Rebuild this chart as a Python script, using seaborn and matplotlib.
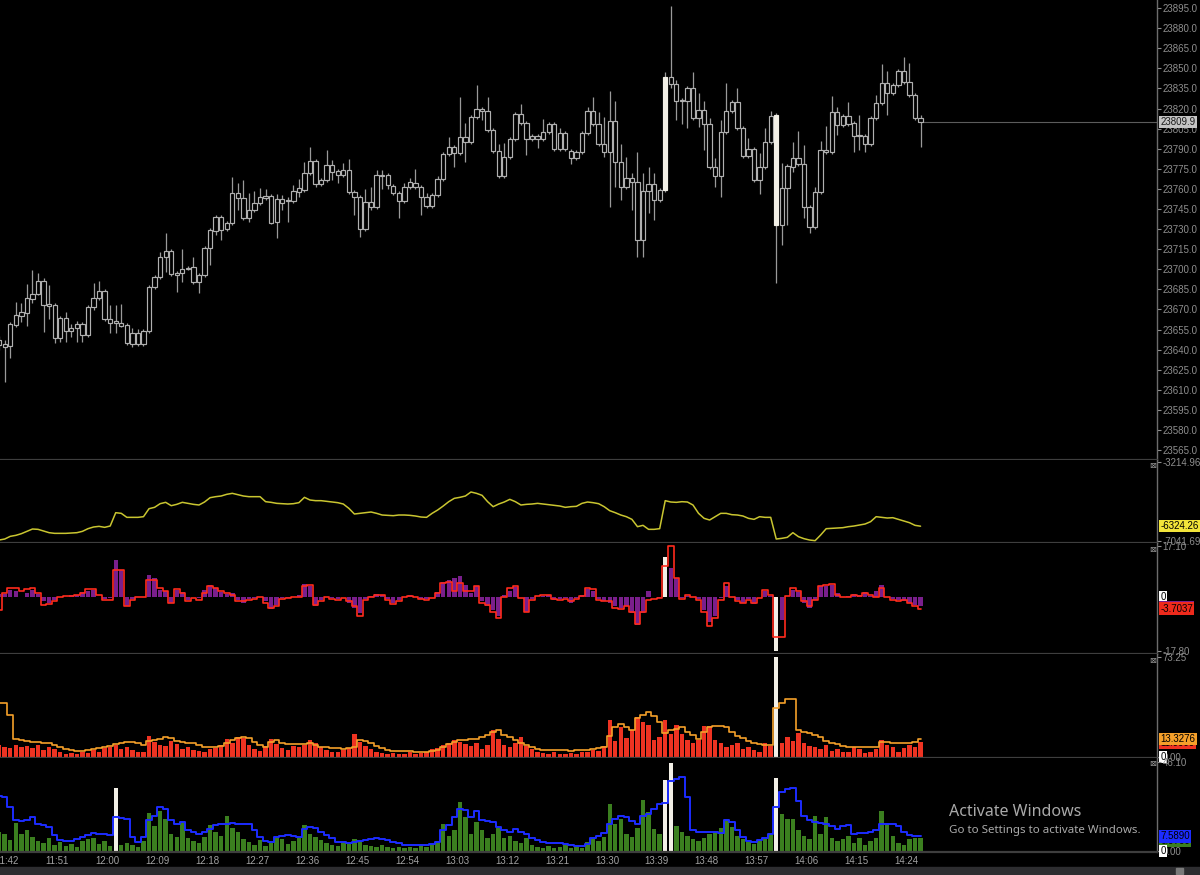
import numpy as np
import pandas as pd
import matplotlib
matplotlib.use('Agg')
import matplotlib.pyplot as plt
from matplotlib.patches import Rectangle
import seaborn as sns

# 1-minute bars, 11:41 .. 14:27
opens = [23647.25, 23644.25, 23642.75, 23658.5, 23665.0, 23667.25, 23677.75, 23681.5, 23691.25, 23674.0,
         23673.25, 23648.75, 23663.5, 23656.0, 23656.0, 23659.0, 23651.0, 23671.75, 23678.5, 23683.75,
         23662.75, 23659.75, 23659.75, 23658.5, 23644.25, 23652.5, 23644.25, 23654.0, 23686.75, 23694.25,
         23709.0, 23713.5, 23697.25, 23697.25, 23700.25, 23701.75, 23690.5, 23695.75, 23715.75, 23728.5,
         23739.0, 23730.0, 23734.5, 23757.0, 23753.25, 23738.25, 23744.25, 23749.5, 23753.25, 23754.75,
         23735.25, 23752.5, 23751.0, 23751.0, 23757.75, 23759.25, 23771.75, 23780.75, 23763.5, 23766.75,
         23777.75, 23773.25, 23770.25, 23774.0, 23757.75, 23754.0, 23730.0, 23750.25, 23746.5, 23770.25,
         23770.25, 23762.0, 23757.0, 23751.0, 23761.5, 23764.5, 23761.5, 23754.0, 23747.25, 23755.5,
         23767.25, 23786.0, 23791.25, 23786.75, 23798.75, 23795.0, 23813.5, 23819.5, 23818.0, 23804.0,
         23788.25, 23769.5, 23783.75, 23797.25, 23816.0, 23809.25, 23797.25, 23799.5, 23797.25, 23802.5,
         23808.5, 23789.75, 23801.75, 23788.25, 23783.0, 23787.5, 23801.75, 23818.0, 23808.5, 23793.5,
         23787.5, 23810.75, 23780.0, 23761.5, 23768.0, 23765.0, 23721.75, 23758.5, 23763.5, 23751.75,
         23759.25, 23843.5, 23838.25, 23826.25, 23825.5, 23835.25, 23813.0, 23818.75, 23808.5, 23776.25,
         23769.5, 23802.5, 23818.0, 23824.75, 23805.5, 23784.5, 23789.75, 23766.75, 23776.25, 23795.0,
         23815.25, 23733.0, 23760.5, 23776.25, 23783.0, 23778.5, 23746.5, 23731.5, 23757.75, 23789.0,
         23787.5, 23817.5, 23807.75, 23814.5, 23809.25, 23800.25, 23799.5, 23793.5, 23813.0, 23824.0,
         23839.0, 23831.5, 23837.5, 23848.0, 23839.75, 23830.0, 23813.0]
highs = [23650.0, 23647.25, 23660.5, 23675.5, 23674.75, 23689.0, 23699.5, 23697.25, 23693.5, 23688.25,
         23674.75, 23665.0, 23668.0, 23659.0, 23661.25, 23660.5, 23673.25, 23689.75, 23691.25, 23685.25,
         23673.25, 23673.25, 23674.0, 23659.75, 23656.0, 23655.5, 23655.5, 23688.25, 23695.75, 23713.0,
         23727.0, 23715.0, 23698.75, 23715.0, 23702.5, 23709.0, 23697.25, 23717.25, 23730.75, 23740.5,
         23740.5, 23736.0, 23769.0, 23764.5, 23766.5, 23757.0, 23758.5, 23760.5, 23760.0, 23756.25,
         23756.25, 23755.5, 23754.0, 23763.0, 23767.5, 23780.0, 23791.25, 23782.25, 23768.0, 23789.0,
         23781.5, 23774.75, 23779.25, 23782.25, 23759.25, 23755.5, 23760.0, 23761.5, 23774.0, 23774.0,
         23771.75, 23763.5, 23758.5, 23764.5, 23768.0, 23774.75, 23763.0, 23757.0, 23757.0, 23769.5,
         23787.5, 23798.75, 23792.75, 23828.5, 23809.25, 23815.25, 23837.5, 23821.0, 23828.5, 23805.5,
         23793.5, 23794.25, 23798.75, 23817.5, 23823.25, 23810.75, 23801.0, 23801.0, 23812.25, 23810.0,
         23810.0, 23805.5, 23803.25, 23789.75, 23789.0, 23803.25, 23821.0, 23828.5, 23817.5, 23813.5,
         23833.0, 23825.5, 23793.5, 23783.75, 23771.75, 23787.5, 23771.75, 23776.25, 23771.75, 23760.5,
         23847.25, 23896.5, 23841.25, 23827.75, 23836.75, 23847.25, 23831.5, 23825.5, 23813.0, 23783.0,
         23811.5, 23839.0, 23826.25, 23835.25, 23807.0, 23798.0, 23791.25, 23786.75, 23805.5, 23818.0,
         23816.75, 23779.25, 23778.5, 23795.0, 23803.25, 23792.75, 23748.0, 23761.5, 23795.75, 23807.0,
         23829.25, 23821.0, 23815.75, 23824.75, 23810.75, 23815.25, 23801.0, 23814.5, 23830.0, 23853.25,
         23848.0, 23839.0, 23849.5, 23858.5, 23854.0, 23831.5, 23815.25]
lows = [23639.75, 23615.75, 23633.75, 23657.0, 23660.5, 23657.5, 23674.75, 23680.75, 23653.0, 23662.75,
        23645.0, 23645.75, 23645.75, 23649.5, 23645.75, 23645.75, 23649.5, 23669.5, 23677.0, 23661.25,
        23652.5, 23652.5, 23657.0, 23643.5, 23642.0, 23642.75, 23642.75, 23652.5, 23685.25, 23692.75,
        23698.0, 23695.0, 23683.0, 23690.5, 23699.5, 23689.0, 23682.25, 23694.25, 23703.25, 23725.5,
        23721.75, 23728.5, 23733.0, 23744.25, 23736.75, 23735.25, 23742.75, 23748.0, 23751.75, 23733.75,
        23723.25, 23744.25, 23735.25, 23749.5, 23754.0, 23757.75, 23770.25, 23761.5, 23762.0, 23765.0,
        23766.75, 23764.5, 23768.75, 23756.25, 23740.5, 23724.0, 23728.5, 23744.25, 23745.0, 23760.0,
        23760.0, 23755.5, 23738.25, 23749.5, 23760.0, 23760.0, 23740.5, 23745.75, 23745.75, 23754.0,
        23765.75, 23784.5, 23776.25, 23785.25, 23780.0, 23793.5, 23812.25, 23811.5, 23802.5, 23786.75,
        23768.0, 23768.0, 23782.25, 23795.75, 23807.75, 23785.25, 23795.75, 23790.5, 23795.75, 23801.0,
        23788.25, 23788.25, 23788.25, 23778.5, 23781.5, 23786.0, 23800.25, 23807.0, 23792.0, 23783.75,
        23746.5, 23761.5, 23751.75, 23760.0, 23744.25, 23709.0, 23709.0, 23742.0, 23736.75, 23750.25,
        23757.75, 23835.25, 23811.5, 23808.5, 23805.5, 23811.5, 23806.25, 23789.0, 23774.75, 23761.5,
        23754.0, 23801.0, 23816.5, 23804.0, 23783.0, 23783.0, 23765.0, 23756.25, 23774.75, 23793.5,
        23689.75, 23718.0, 23733.0, 23772.5, 23777.0, 23738.25, 23727.0, 23730.0, 23756.25, 23786.0,
        23786.0, 23800.25, 23806.25, 23807.0, 23787.5, 23789.0, 23787.5, 23792.0, 23811.5, 23822.5,
        23815.25, 23830.0, 23836.0, 23838.25, 23828.5, 23811.5, 23791.25]
closes = [23643.5, 23642.0, 23659.0, 23665.75, 23668.0, 23678.5, 23681.5, 23691.25, 23673.25, 23672.5,
          23648.75, 23663.5, 23654.0, 23654.0, 23659.0, 23651.0, 23671.75, 23678.5, 23683.75, 23662.75,
          23659.75, 23661.25, 23657.5, 23645.0, 23652.5, 23644.25, 23654.0, 23686.75, 23694.25, 23709.0,
          23713.5, 23696.5, 23695.75, 23700.25, 23701.0, 23690.5, 23695.75, 23715.75, 23729.25, 23739.0,
          23729.25, 23734.5, 23757.0, 23753.25, 23738.25, 23744.25, 23749.5, 23754.0, 23754.75, 23734.5,
          23752.5, 23749.5, 23751.75, 23758.5, 23760.5, 23771.75, 23780.75, 23763.5, 23766.75, 23777.75,
          23772.5, 23770.25, 23774.0, 23757.75, 23754.0, 23730.0, 23750.25, 23746.5, 23770.25, 23769.5,
          23763.0, 23757.0, 23751.0, 23761.5, 23765.0, 23761.5, 23754.0, 23747.25, 23755.5, 23767.25,
          23786.0, 23791.25, 23786.75, 23798.75, 23795.0, 23813.5, 23819.5, 23818.0, 23804.0, 23788.25,
          23769.5, 23783.75, 23797.25, 23816.0, 23809.25, 23797.25, 23799.5, 23797.25, 23802.5, 23808.5,
          23789.75, 23801.75, 23789.75, 23783.0, 23787.5, 23801.75, 23818.0, 23808.5, 23793.5, 23787.5,
          23810.75, 23780.0, 23761.5, 23768.0, 23765.0, 23721.75, 23758.5, 23763.5, 23751.75, 23759.25,
          23843.5, 23838.25, 23825.5, 23825.5, 23835.25, 23813.0, 23818.75, 23808.5, 23776.25, 23769.5,
          23802.5, 23818.0, 23824.75, 23805.5, 23784.5, 23789.75, 23766.75, 23776.25, 23795.0, 23814.5,
          23733.0, 23760.5, 23777.0, 23783.0, 23778.5, 23746.5, 23731.5, 23757.75, 23789.0, 23787.5,
          23817.5, 23807.75, 23814.5, 23808.5, 23799.5, 23799.5, 23793.5, 23813.0, 23824.0, 23839.0,
          23831.5, 23837.5, 23848.0, 23839.75, 23830.0, 23813.0, 23809.9]

# cumulative line (yellow)
cum_line = [-6994, -6946, -6816, -6768, -6687, -6574, -6461, -6477, -6558, -6639,
            -6671, -6671, -6671, -6655, -6639, -6574, -6445, -6364, -6332, -6380,
            -6316, -5670, -5702, -5896, -5896, -5896, -5864, -5476, -5411, -5234,
            -5169, -5331, -5266, -5169, -5218, -5266, -5298, -5153, -4943, -4895,
            -4862, -4781, -4733, -4798, -4862, -4895, -4895, -4895, -5137, -5169,
            -5218, -5234, -5250, -5234, -5185, -4927, -5056, -5088, -5088, -5121,
            -5153, -5185, -5250, -5460, -5734, -5702, -5670, -5637, -5702, -5783,
            -5799, -5815, -5783, -5783, -5799, -5831, -5880, -5896, -5702, -5541,
            -5347, -5137, -4975, -4927, -4862, -4668, -4733, -4830, -5137, -5379,
            -5250, -5153, -5024, -5137, -5298, -5266, -5250, -5218, -5250, -5282,
            -5314, -5347, -5411, -5379, -5363, -5218, -5153, -5185, -5234, -5379,
            -5573, -5670, -5783, -5864, -5993, -6348, -6283, -6477, -6477, -6445,
            -5088, -5153, -5169, -5137, -5153, -5298, -5702, -5944, -6025, -5864,
            -5702, -5702, -5767, -5783, -5831, -5944, -5993, -5864, -5896, -5896,
            -6946, -6913, -6865, -6639, -6832, -6929, -6994, -7026, -6752, -6445,
            -6429, -6413, -6396, -6348, -6316, -6267, -6219, -6106, -5864, -5896,
            -5928, -5912, -5993, -6073, -6154, -6283, -6324.26]

# delta histogram (purple) and its smoothed line (red)
delta = [1.1, 1.1, 2.5, 2.0, 0.3, 1.4, 2.5, 1.2, -1.3, -1.9,
         -0.8, 0.1, 0.3, 0.8, 0.9, 1.7, 2.0, 2.5, 0.3, -0.6,
         -0.2, 12.5, 9.2, -3.0, -0.6, 0.3, 0.1, 7.5, 6.4, 2.5,
         2.0, -1.7, 2.5, 1.7, -0.8, 0.1, -0.2, 2.5, 4.2, 3.1,
         1.7, 1.2, 1.4, -0.8, -1.7, -0.6, -0.2, 0.3, -1.3, -3.9,
         -2.4, -0.2, -0.2, 0.3, 0.9, 4.5, 3.7, -2.8, -0.8, 0.1,
         -0.3, -0.6, 0.3, -1.7, -3.5, -5.2, -0.6, 0.6, 1.2, 0.8,
         -0.6, -1.9, -0.8, 0.3, 0.9, 0.1, -0.6, -0.6, 0.1, 1.7,
         5.3, 5.9, 6.4, 7.0, 4.2, 1.4, 3.9, -1.3, -3.0, -4.1,
         -6.3, 0.9, 2.0, 3.4, 0.3, -5.0, -0.6, 0.3, 0.6, 0.8,
         -0.8, -0.6, -0.3, -1.7, -0.2, 0.9, 2.8, 2.3, -0.6, -1.3,
         -1.7, -3.0, -3.5, -2.8, -5.2, -9.1, -5.2, 2.0, 0.1, -0.2,
         13.3, 9.7, 6.4, -0.2, 0.6, 0.1, -0.6, -4.1, -8.0, -6.3,
         -0.2, 3.7, 0.1, -0.8, -1.7, -0.6, -2.1, 0.3, 2.3, 0.6,
         -17.8, -7.4, 0.3, 2.5, 1.7, -1.9, -3.5, -0.8, 3.7, 3.9,
         4.2, 1.4, 0.3, 0.6, 1.2, 0.9, 1.7, 0.6, 2.0, 4.2,
         0.1, -0.6, -1.0, -1.3, -1.9, -2.4, -3.0]
delta_line = [-4.1, 1.4, 3.3, 3.3, 2.0, 2.8, 3.1, 1.4, -2.4, -2.1,
              -1.3, 0.3, 0.6, 0.6, 0.9, 1.4, 2.8, 2.8, 0.9, -0.8,
              -0.8, 9.2, 9.2, -3.0, -0.8, 0.3, 0.1, 5.9, 5.9, 3.1,
              2.0, -1.9, 2.8, 1.4, -1.3, -0.2, -0.8, 1.4, 3.9, 3.1,
              2.0, 1.4, 0.9, -1.3, -1.3, -0.8, -0.6, 0.1, -1.9, -3.5,
              -3.0, -0.6, -0.2, 0.1, 0.3, 3.9, 4.2, -2.4, -1.3, 0.3,
              -0.6, -0.8, -0.2, -1.3, -3.0, -6.1, -0.8, 0.3, 0.9, 0.9,
              -0.8, -2.1, -1.3, 0.1, 0.6, 0.1, -0.6, -0.8, -0.2, 1.4,
              4.8, 5.0, 2.0, 4.8, 2.0, 2.0, 3.9, -1.9, -2.4, -4.7,
              -6.9, 0.3, 3.1, 3.7, -0.2, -4.7, -0.8, 0.6, 0.9, 0.9,
              -0.6, -0.8, -0.6, -1.3, -0.6, 0.6, 3.1, 2.8, -0.8, -1.3,
              -1.3, -3.5, -3.9, -3.0, -4.7, -8.7, -4.7, -0.8, -0.6, -0.2,
              10.3, 17.1, 6.4, -0.6, 0.9, 0.3, -0.8, -4.7, -9.6, -6.9,
              -0.8, 4.8, 0.3, -1.3, -1.9, -0.8, -1.9, -0.2, 2.5, 0.9,
              -13.2, -13.2, 0.6, 3.1, 2.0, -1.3, -3.0, -0.8, 3.9, 4.2,
              4.5, 0.9, 0.1, 0.3, 0.9, 0.6, 1.4, 0.9, 0.3, 3.1,
              0.3, -0.8, -1.3, -1.0, -1.9, -2.8, -3.7037]

# sell volume (red bars) and its average (orange)
sell_vol = [8.8, 7.6, 6.3, 9.0, 7.0, 8.0, 6.5, 8.5, 5.0, 7.0,
            6.0, 3.5, 2.5, 3.0, 2.0, 3.5, 3.0, 5.0, 4.0, 6.5,
            7.5, 9.0, 6.0, 7.5, 5.0, 3.5, 4.0, 15.4, 11.0, 9.0,
            8.0, 11.5, 9.5, 6.0, 7.0, 5.0, 4.5, 3.5, 5.5, 6.5,
            9.0, 12.9, 10.0, 15.0, 13.7, 9.0, 6.0, 4.5, 8.0, 12.9,
            9.5, 6.5, 5.0, 8.0, 7.0, 9.0, 12.5, 10.0, 7.5, 5.0,
            4.0, 3.5, 5.0, 6.5, 16.9, 11.0, 8.0, 6.0, 4.0, 3.0,
            2.5, 3.0, 2.0, 2.5, 3.5, 2.0, 3.0, 4.0, 5.5, 6.5,
            9.0, 10.0, 12.5, 11.0, 9.5, 8.0, 10.5, 6.0, 9.0, 19.8,
            13.0, 9.0, 7.0, 10.0, 14.4, 8.0, 5.5, 4.0, 3.0, 2.5,
            3.5, 2.5, 2.0, 3.0, 2.5, 4.0, 3.5, 5.0, 4.5, 8.0,
            27.1, 12.0, 22.2, 14.0, 20.0, 29.5, 25.9, 23.5, 12.5, 15.0,
            27.1, 17.0, 23.4, 16.5, 12.5, 10.0, 12.5, 22.7, 22.7, 12.5,
            10.0, 7.5, 8.8, 10.0, 5.5, 7.0, 5.0, 4.0, 10.0, 8.0,
            73.25, 10.0, 15.0, 12.0, 17.3, 10.5, 8.0, 7.0, 6.0, 8.5,
            4.5, 5.5, 3.5, 4.0, 7.5, 5.5, 3.0, 4.0, 6.0, 12.5,
            9.0, 7.0, 4.0, 6.5, 9.0, 7.0, 11.0]
sell_avg = [39.8, 39.8, 30.8, 12.9, 12.5, 12.0, 11.2, 11.2, 10.5, 10.0,
            8.8, 7.1, 5.9, 5.1, 4.6, 4.4, 5.1, 6.1, 6.6, 7.6,
            8.3, 9.5, 10.5, 11.2, 11.0, 10.0, 8.8, 12.0, 12.5, 13.4,
            14.4, 13.7, 12.0, 11.0, 10.5, 10.0, 9.0, 7.6, 7.6, 7.6,
            8.1, 10.0, 12.5, 13.7, 14.9, 13.7, 11.2, 8.8, 7.6, 11.2,
            12.5, 10.5, 9.5, 9.3, 9.3, 9.5, 10.5, 8.8, 7.6, 7.1,
            6.3, 6.3, 5.9, 6.6, 7.6, 12.5, 12.0, 10.0, 8.1, 6.3,
            5.1, 4.6, 4.6, 4.4, 4.2, 3.9, 3.7, 3.7, 4.2, 5.1,
            7.1, 9.5, 11.2, 12.5, 12.5, 12.9, 13.4, 14.4, 16.1, 18.6,
            19.8, 16.1, 14.4, 12.5, 10.5, 8.8, 7.1, 5.6, 5.1, 5.1,
            5.1, 4.9, 5.1, 4.6, 4.9, 5.1, 5.4, 5.6, 6.3, 7.6,
            15.4, 21.7, 24.2, 21.7, 19.8, 28.3, 30.8, 33.2, 30.0, 25.9,
            17.3, 19.8, 20.8, 21.7, 18.6, 16.1, 12.9, 18.6, 21.7, 22.7,
            22.7, 21.7, 18.6, 15.4, 13.7, 12.0, 10.5, 9.3, 8.8, 8.5,
            35.7, 39.3, 42.2, 42.5, 19.8, 18.6, 17.3, 16.1, 14.4, 12.0,
            10.5, 9.3, 8.3, 7.6, 7.1, 7.1, 7.1, 7.3, 7.6, 11.2,
            11.0, 10.5, 10.5, 10.3, 10.5, 11.2, 13.3276]

# buy volume (green bars) and its average (blue)
buy_vol = [9.9, 9.0, 5.5, 14.5, 9.0, 11.0, 7.5, 5.0, 4.0, 6.5,
           3.0, 4.5, 2.5, 3.5, 2.0, 5.0, 6.0, 7.0, 3.5, 5.0,
           2.5, 32.6, 3.0, 4.0, 3.0, 2.0, 5.0, 19.6, 13.0, 21.0,
           16.5, 9.0, 7.5, 15.5, 7.0, 5.0, 4.0, 7.5, 13.3, 10.0,
           8.0, 17.9, 12.0, 9.9, 6.0, 4.5, 3.0, 5.5, 2.5, 4.0,
           7.0, 6.0, 3.5, 5.0, 7.0, 13.3, 9.0, 7.5, 5.5, 4.0,
           3.0, 2.5, 4.5, 3.5, 6.0, 5.0, 3.0, 2.5, 2.0, 3.0,
           2.0, 1.5, 2.0, 1.5, 2.0, 1.5, 2.5, 2.0, 3.5, 5.0,
           14.2, 8.0, 11.0, 25.6, 17.6, 9.0, 15.0, 10.8, 7.0, 9.0,
           12.0, 6.5, 8.0, 5.0, 4.0, 7.0, 3.0, 2.0, 1.5, 2.5,
           1.5, 2.0, 3.0, 1.5, 2.0, 1.5, 4.5, 6.5, 5.0, 7.5,
           24.4, 14.2, 16.7, 9.0, 7.5, 12.0, 26.5, 20.1, 11.6, 9.0,
           36.7, 45.7, 13.0, 10.0, 8.0, 6.0, 5.0, 7.0, 9.0, 10.0,
           12.0, 16.7, 12.5, 8.0, 6.0, 4.5, 3.5, 5.0, 6.0, 9.0,
           37.6, 19.3, 16.7, 16.7, 11.0, 8.0, 6.0, 18.4, 9.0, 17.6,
           7.0, 5.0, 6.0, 8.0, 4.0, 6.5, 3.0, 5.0, 7.0, 20.7,
           14.0, 8.0, 4.0, 3.0, 6.0, 7.0, 6.97]
buy_avg = [28.7, 27.8, 22.7, 15.9, 15.5, 15.9, 17.6, 14.2, 13.3, 12.5,
           8.2, 5.6, 5.3, 5.3, 6.0, 7.3, 8.2, 9.4, 9.0, 8.7,
           8.2, 17.6, 17.2, 16.7, 7.3, 4.8, 7.3, 15.9, 18.4, 22.7,
           21.8, 15.9, 14.2, 15.0, 10.8, 9.9, 9.0, 9.9, 11.6, 13.3,
           14.2, 13.8, 14.5, 14.2, 14.2, 14.2, 10.8, 7.3, 5.3, 4.8,
           7.3, 7.7, 8.2, 7.7, 7.3, 11.6, 12.5, 12.1, 9.9, 8.2,
           6.5, 4.8, 4.6, 4.3, 4.6, 5.0, 5.6, 6.3, 6.5, 6.3,
           5.6, 4.8, 4.3, 3.1, 3.1, 3.1, 2.9, 3.1, 3.4, 4.8,
           10.8, 13.3, 17.6, 21.8, 21.3, 17.6, 21.0, 16.2, 15.5, 15.0,
           12.5, 10.8, 9.9, 11.6, 9.9, 9.0, 7.0, 5.6, 4.8, 4.3,
           4.3, 4.3, 3.9, 3.1, 2.7, 2.6, 3.9, 6.5, 7.7, 9.4,
           14.2, 16.7, 17.9, 17.6, 15.5, 14.2, 18.4, 19.3, 21.8, 24.4,
           24.8, 36.4, 37.2, 38.1, 27.8, 10.8, 9.9, 9.9, 9.9, 9.7,
           9.4, 15.9, 15.0, 10.8, 7.3, 5.3, 4.8, 5.6, 6.5, 8.7,
           22.7, 30.4, 32.1, 32.9, 26.1, 18.4, 16.2, 15.0, 14.5, 14.2,
           12.8, 11.6, 12.8, 13.3, 9.0, 9.4, 9.4, 9.9, 10.8, 13.8,
           14.2, 14.2, 12.8, 9.9, 8.2, 7.7, 7.589]

first_bar = '11:41'
time_ticks = ['11:42', '11:51', '12:00', '12:09', '12:18', '12:27', '12:36', '12:45', '12:54', '13:03',
              '13:12', '13:21', '13:30', '13:39', '13:48', '13:57', '14:06', '14:15', '14:24']

# ---------------------------------------------------------------
o, h, l, c = (np.array(a, dtype=float) for a in (opens, highs, lows, closes))
idx = np.arange(len(c))

def minutes(t):
    hh, mm = t.split(':')
    return int(hh) * 60 + int(mm)

tick_pos = [minutes(t) - minutes(first_bar) + 0.5 for t in time_ticks]

sns.set_theme(style='dark', rc={'axes.facecolor': 'black', 'figure.facecolor': 'black',
                                'savefig.facecolor': 'black', 'axes.grid': False})
plt.rcParams['font.family'] = ['Liberation Sans', 'DejaVu Sans']

W, H = 1200, 875
fig = plt.figure(figsize=(W / 100, H / 100), dpi=100)
plot_w = 1157 / W

def panel(top, bottom):
    return fig.add_axes([0, 1 - bottom / H, plot_w, (bottom - top) / H])

ax_px = panel(0, 460)
ax_cd = panel(460, 543)
ax_dl = panel(543, 654)
ax_sv = panel(654, 758)
ax_bv = panel(758, 852)
axes = [ax_px, ax_cd, ax_dl, ax_sv, ax_bv]

HOT = '#f2efe6'
GRAY = '#8e8e8e'

# candles
body_lo = np.minimum(o, c)
body_h = np.maximum(np.abs(c - o), 0.05)
hot_bar = np.abs(c - o) > 60
ax_px.vlines(idx, l, h, color='#9a9a9a', lw=0.9, zorder=1)
ax_px.bar(idx, body_h, bottom=body_lo, width=0.78,
          color=np.where(hot_bar, HOT, 'black'),
          edgecolor=np.where(hot_bar, HOT, '#b0b0b0'), linewidth=0.85, zorder=2)
ax_px.hlines(c[-1], idx[-1] + 0.5, 209, color='#5c5c5c', lw=0.8, zorder=1)
ax_px.set_ylim(23557.6, 23901.0)
ax_px.set_yticks(np.arange(23565, 23896, 15))
ax_px.set_yticklabels([f'{v:.1f}' for v in np.arange(23565, 23896, 15)])

# cumulative line
sns.lineplot(x=idx, y=cum_line, ax=ax_cd, color='#c9c530', linewidth=1.1, estimator=None)
ax_cd.set_ylim(-7138.6, -3118.1)
ax_cd.set_yticks([-7041.69, -3214.96])
ax_cd.set_yticklabels(['-7041.69', '-3214.96'])


def hist(ax, vals, base, limit):
    vals = np.array(vals, dtype=float)
    df = pd.DataFrame({'i': idx, 'v': vals,
                       'kind': np.where(np.abs(vals) > limit, 'hot', 'base')})
    sns.barplot(data=df, x='i', y='v', hue='kind', palette={'base': base, 'hot': HOT},
                native_scale=True, dodge=False, legend=False, errorbar=None,
                saturation=1, width=0.8, linewidth=0, ax=ax)


hist(ax_dl, delta, '#7a1f8c', 13)
sns.lineplot(x=idx, y=delta_line, ax=ax_dl, color='#ff2b1c', linewidth=1.2,
             drawstyle='steps-mid', estimator=None)
ax_dl.set_ylim(-18.8, 18.1)
ax_dl.set_yticks([-17.8, 17.1])
ax_dl.set_yticklabels(['-17.80', '17.10'])

hist(ax_sv, sell_vol, '#ee3322', 40)
sns.lineplot(x=idx, y=sell_avg, ax=ax_sv, color='#f5a02a', linewidth=1.2,
             drawstyle='steps-mid', estimator=None)
ax_sv.set_ylim(-0.73, 75.45)
ax_sv.set_yticks([0, 73.25])
ax_sv.set_yticklabels(['0.00', '73.25'])

hist(ax_bv, buy_vol, '#3b7f1f', 30)
sns.lineplot(x=idx, y=buy_avg, ax=ax_bv, color='#1c2cff', linewidth=1.4,
             drawstyle='steps-mid', estimator=None)
ax_bv.set_ylim(-0.5, 48.2)
ax_bv.set_yticks([0, 46.10])
ax_bv.set_yticklabels(['0.00', '46.10'])

for ax in axes:
    ax.set_facecolor('black')
    ax.set_xlim(0.15, 208.6)
    ax.set_xlabel('')
    ax.set_ylabel('')
    ax.grid(False)
    ax.spines['top'].set_visible(False)
    ax.spines['left'].set_visible(False)
    ax.spines['right'].set_color('#6c6c6c')
    ax.spines['right'].set_linewidth(1.0)
    ax.spines['bottom'].set_color('#3e3e3e')
    ax.spines['bottom'].set_linewidth(1.6)
    ax.yaxis.tick_right()
    ax.tick_params(axis='y', colors=GRAY, labelsize=7, length=3, width=0.8, pad=1,
                   direction='out', right=True, left=False)
    ax.tick_params(axis='x', bottom=False, labelbottom=False)

ax_bv.set_xticks(tick_pos)
ax_bv.set_xticklabels(time_ticks)
ax_bv.tick_params(axis='x', labelbottom=True, colors='#a2a2a2', labelsize=7, length=0, pad=3)
ax_bv.set_xlim(0.15, 208.6)

# right-hand value tags
def tag(ax, y, text, fc, tc='black', z=5):
    ax.text(1.003, y, text, transform=ax.get_yaxis_transform(), fontsize=7, color=tc,
            va='center', ha='left', zorder=z, clip_on=False,
            bbox=dict(boxstyle='square,pad=0.12', fc=fc, ec='none'))

tag(ax_px, c[-1], f'{c[-1]:.1f}', '#c4c4c4', '#1a1a1a')
tag(ax_cd, cum_line[-1], f'{cum_line[-1]:.2f}', '#f2e43a')
tag(ax_dl, 0, '0', 'white')
tag(ax_dl, delta[-1] - 0.3, f'{delta[-1]:.4f}', '#7a1f8c', '#7a1f8c', 5)
tag(ax_dl, delta_line[-1], f'{delta_line[-1]:.4f}', '#ee2a1c', 'black', 6)
tag(ax_sv, sell_avg[-1] - 3.2, f'{sell_vol[-1]:.4f}', '#ee3322', 'black', 5)
tag(ax_sv, sell_avg[-1], f'{sell_avg[-1]:.4f}', '#f5a02a', 'black', 6)
tag(ax_sv, 0, '0', 'white')
tag(ax_bv, buy_avg[-1] - 2.4, f'{buy_vol[-1]:.4f}', '#3b7f1f', 'black', 5)
tag(ax_bv, buy_avg[-1], f'{buy_avg[-1]:.4f}', '#1c2cff', 'black', 6)
tag(ax_bv, 0, '0', 'white')

for ax in axes[1:]:
    ax.text(0.999, 0.985, '\u22a0', transform=ax.transAxes, fontsize=6, color='#9a9a9a',
            ha='right', va='top', family=['DejaVu Sans'])

# screen furniture
fig.add_artist(Rectangle((0, 0), 1, 8 / H, transform=fig.transFigure, color='#2d2d30', zorder=0))
fig.add_artist(Rectangle((1176 / W, 1 / H), 7 / W, 6 / H, transform=fig.transFigure,
                         color='#7a7a7a', zorder=1))
fig.text(949 / W, 1 - 812 / H, 'Activate Windows', color='#a9a9a9', fontsize=11.5,
         va='center', ha='left', family=['Noto Sans', 'DejaVu Sans'])
fig.text(949 / W, 1 - 831 / H, 'Go to Settings to activate Windows.', color='#a9a9a9',
         fontsize=8.3, va='center', ha='left', family=['Noto Sans', 'DejaVu Sans'])

fig.savefig('out.png', dpi=100, facecolor='black')
